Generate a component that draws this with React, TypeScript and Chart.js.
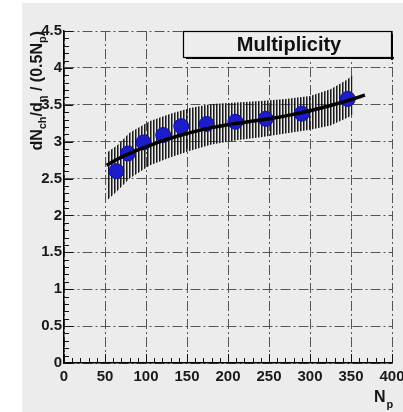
import React, { useEffect, useRef } from 'react';
import { Chart, registerables } from 'chart.js';

Chart.register(...registerables);

const FONT = '"Liberation Sans", Arial, Helvetica, sans-serif';

// Measured points
const pointsX = [64, 78, 97, 121, 143, 174, 209, 246, 290, 346];
const pointsY = [2.6, 2.84, 2.99, 3.09, 3.21, 3.24, 3.27, 3.31, 3.38, 3.58];

// Fit curve
const fitX = [52, 60, 70, 80, 90, 100, 120, 140, 160, 180, 200, 225, 250, 275, 300, 325, 350, 367];
const fitY = [2.68, 2.73, 2.79, 2.84, 2.89, 2.93, 3.01, 3.08, 3.14, 3.19, 3.23, 3.27, 3.31, 3.36, 3.42, 3.49, 3.57, 3.63];

// Systematic uncertainty band
const bandX = [52, 65, 80, 105, 130, 155, 180, 210, 240, 270, 300, 325, 345, 352];
const bandUpper = [2.85, 2.95, 3.12, 3.28, 3.38, 3.46, 3.51, 3.53, 3.55, 3.58, 3.62, 3.71, 3.84, 3.9];
const bandLower = [2.2, 2.33, 2.5, 2.68, 2.79, 2.88, 2.96, 3.02, 3.06, 3.11, 3.16, 3.22, 3.32, 3.36];

const xMin = 0, xMax = 400, xStep = 50, xMinor = 10;
const yMin = 0, yMax = 4.5, yStep = 0.5, yMinor = 0.1;

const legendText = 'Multiplicity';

const pairs = (xs: number[], ys: number[]) => xs.map((x, i) => ({ x, y: ys[i] }));

const decorPlugin = {
  id: 'decor',
  beforeDraw(chart: any) {
    const { ctx, width, height } = chart;
    ctx.save();
    ctx.fillStyle = '#ffffff';
    ctx.fillRect(0, 0, width, height);
    ctx.fillStyle = '#ececec';
    ctx.fillRect(22, 3, width - 22, height - 3);
    ctx.restore();
  },
  afterDraw(chart: any) {
    const { ctx, chartArea } = chart;
    const xs = chart.scales.x;
    const ys = chart.scales.y;
    ctx.save();
    // minor / major ticks, inward
    ctx.strokeStyle = '#111';
    ctx.lineWidth = 1;
    ctx.beginPath();
    for (let v = yMin; v <= yMax + 1e-9; v += yMinor) {
      const isMajor = Math.abs(v / yStep - Math.round(v / yStep)) < 1e-6;
      const py = Math.round(ys.getPixelForValue(v)) + 0.5;
      ctx.moveTo(chartArea.left, py);
      ctx.lineTo(chartArea.left + (isMajor ? 9 : 5), py);
    }
    for (let v = xMin; v <= xMax + 1e-9; v += xMinor) {
      const isMajor = Math.abs(v / xStep - Math.round(v / xStep)) < 1e-6;
      const px = Math.round(xs.getPixelForValue(v)) + 0.5;
      ctx.moveTo(px, chartArea.bottom);
      ctx.lineTo(px, chartArea.bottom - (isMajor ? 9 : 5));
    }
    ctx.stroke();

    // legend box
    const bx = 183, by = 31, bw = 208, bh = 26;
    ctx.fillStyle = '#ededed';
    ctx.fillRect(bx, by, bw, bh);
    ctx.strokeStyle = '#000';
    ctx.lineWidth = 1.2;
    ctx.strokeRect(bx + 0.5, by + 0.5, bw, bh);
    ctx.fillStyle = '#000';
    ctx.fillRect(bx + 3, by + bh, bw, 2);
    ctx.fillRect(bx + bw, by + 3, 2, bh);
    ctx.fillStyle = '#111';
    ctx.font = `bold 20px ${FONT}`;
    ctx.textAlign = 'center';
    ctx.textBaseline = 'middle';
    ctx.fillText(legendText, bx + bw / 2 + 2, by + bh / 2 + 1);

    // y-axis title (rotated, with subscripts)
    const segs: [string, boolean][] = [
      ['dN', false], ['ch', true], ['/d', false], ['η', true], [' / (0.5N', false], ['p', true], [')', false],
    ];
    const big = `bold 16px ${FONT}`;
    const small = `bold 11px ${FONT}`;
    let total = 0;
    for (const [t, sub] of segs) {
      ctx.font = sub ? small : big;
      total += ctx.measureText(t).width;
    }
    ctx.fillStyle = '#151515';
    ctx.translate(42, 31);
    ctx.rotate(-Math.PI / 2);
    ctx.textAlign = 'left';
    ctx.textBaseline = 'alphabetic';
    let cx = -total;
    for (const [t, sub] of segs) {
      ctx.font = sub ? small : big;
      ctx.fillText(t, cx, sub ? 4 : 0);
      cx += ctx.measureText(t).width;
    }
    ctx.setTransform(1, 0, 0, 1, 0, 0);

    // x-axis title
    ctx.font = big;
    ctx.textAlign = 'left';
    ctx.fillText('N', 374, 402);
    const nW = ctx.measureText('N').width;
    ctx.font = small;
    ctx.fillText('p', 374 + nW + 1, 408);
    ctx.restore();
  },
};

export default function App() {
  const ref = useRef<HTMLCanvasElement | null>(null);
  useEffect(() => {
    const canvas = ref.current!;
    const ctx = canvas.getContext('2d')!;
    const pc = document.createElement('canvas');
    pc.width = 3;
    pc.height = 1;
    const pctx = pc.getContext('2d')!;
    pctx.fillStyle = '#1a1a1a';
    pctx.fillRect(0, 0, 1, 1);
    pctx.fillStyle = 'rgba(30,30,30,0.55)';
    pctx.fillRect(1, 0, 1, 1);
    const pattern = ctx.createPattern(pc, 'repeat');

    const tickFont = { family: FONT, size: 15, weight: 'bold' as const };
    const fmt = (v: any) => `${+Number(v).toFixed(2)}`;
    const chart = new Chart(canvas, {
      type: 'scatter',
      data: {
        datasets: [
          {
            label: 'data',
            data: pairs(pointsX, pointsY),
            backgroundColor: '#1c1cc8',
            borderColor: '#1212a0',
            borderWidth: 1,
            pointRadius: 7.5,
            showLine: false,
            order: 2,
          },
          {
            label: 'fit',
            data: pairs(fitX, fitY),
            borderColor: '#000',
            borderWidth: 3.5,
            pointRadius: 0,
            showLine: true,
            cubicInterpolationMode: 'monotone',
            fill: false,
            order: 1,
          },
          {
            label: 'upper',
            data: pairs(bandX, bandUpper),
            borderColor: 'rgba(0,0,0,0)',
            borderWidth: 0,
            pointRadius: 0,
            showLine: true,
            fill: false,
            order: 3,
          },
          {
            label: 'lower',
            data: pairs(bandX, bandLower),
            borderColor: 'rgba(0,0,0,0)',
            borderWidth: 0,
            pointRadius: 0,
            showLine: true,
            fill: '-1',
            backgroundColor: pattern as any,
            order: 3,
          },
        ],
      },
      options: {
        animation: false,
        responsive: false,
        devicePixelRatio: 1,
        events: [],
        layout: { padding: { top: 31, right: 11, left: 0, bottom: 0 } },
        plugins: { legend: { display: false }, tooltip: { enabled: false } },
        scales: {
          x: {
            type: 'linear',
            min: xMin,
            max: xMax,
            ticks: { stepSize: xStep, font: tickFont, color: '#1a1a1a', padding: 5, maxRotation: 0, callback: fmt },
            grid: { color: '#555', lineWidth: 1, drawTicks: false },
            border: { display: true, color: '#000', width: 1.5, dash: [10, 3, 2, 3] },
            afterFit: (s: any) => {
              s.height = 49;
              s.paddingLeft = 0;
              s.paddingRight = 0;
            },
          },
          y: {
            type: 'linear',
            min: yMin,
            max: yMax,
            ticks: { stepSize: yStep, font: tickFont, color: '#1a1a1a', padding: 2, callback: fmt },
            grid: { color: '#555', lineWidth: 1, drawTicks: false },
            border: { display: true, color: '#000', width: 1.5, dash: [10, 3, 2, 3] },
            afterFit: (s: any) => {
              s.width = 64;
              s.paddingTop = 0;
              s.paddingBottom = 0;
            },
          },
        },
      },
      plugins: [decorPlugin],
    });
    return () => chart.destroy();
  }, []);
  return (
    <div style={{ position: 'absolute', left: 0, top: 0, width: 403, height: 412 }}>
      <canvas ref={ref} width={403} height={412} style={{ width: 403, height: 412, display: 'block' }} />
    </div>
  );
}
